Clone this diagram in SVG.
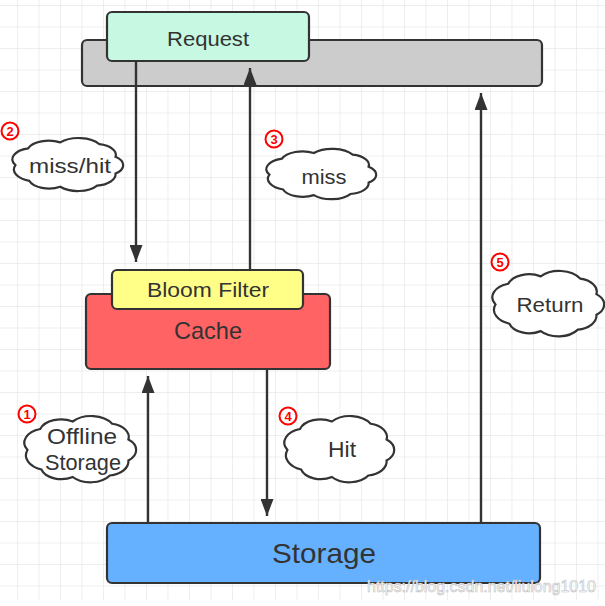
<svg xmlns="http://www.w3.org/2000/svg" xmlns:xlink="http://www.w3.org/1999/xlink" width="605" height="606" viewBox="0 0 605 606">
<style>
.box{stroke:#333;stroke-width:2.2}
.t{font-family:"Liberation Sans",Arial,sans-serif;fill:#333;text-anchor:middle}
.cl{fill:#fff;stroke:#333;stroke-width:2.2;vector-effect:non-scaling-stroke}
.conn line{stroke:#333;stroke-width:2.4}
.num circle{fill:none;stroke:#f00;stroke-width:2}
.num text{font-family:"Liberation Sans",Arial,sans-serif;font-weight:bold;font-size:13px;fill:#f00;text-anchor:middle}
</style>
<defs>
<pattern id="grid" width="21.5" height="21.5" patternUnits="userSpaceOnUse" x="17" y="5">
<path d="M0 0H21.5M0 0V21.5" fill="none" stroke="#dedede" stroke-width="1"/>
</pattern>
<marker id="ah" markerUnits="userSpaceOnUse" markerWidth="17" markerHeight="13" refX="17" refY="6.5" orient="auto">
<path d="M0,0 L17,6.5 L0,13 Z" fill="#333"/>
</marker>
<path id="cloud" class="cl" d="M3,52 A19,19 0 0 1 14,24 A19,19 0 0 1 42,14 A21,21 0 0 1 76,17 A18,18 0 0 1 90,38 A18,18 0 0 1 90,66 A19,19 0 0 1 74,86 A20,20 0 0 1 42,88 A18,18 0 0 1 15,78 A20,20 0 0 1 3,52 Z"/>
</defs>
<rect width="605" height="600" fill="#fff"/>
<rect width="605" height="600" fill="url(#grid)"/>

<g id="gateway"><rect class="box" x="82" y="40" width="460" height="46" rx="5" fill="#cccccc"/></g>
<g id="request"><rect class="box" x="107" y="12" width="202" height="49" rx="5" fill="#c6f8e2"/><text class="t" x="208" y="45.5" font-size="21" textLength="82" lengthAdjust="spacingAndGlyphs">Request</text></g>
<g id="cache"><rect class="box" x="86" y="294" width="244" height="75" rx="5" fill="#ff6363"/><text class="t" x="208" y="339" font-size="24" textLength="68" lengthAdjust="spacingAndGlyphs">Cache</text></g>
<g id="bloom"><rect class="box" x="112" y="270" width="191" height="39" rx="5" fill="#ffff88"/><text class="t" x="208" y="297" font-size="21" textLength="122" lengthAdjust="spacingAndGlyphs">Bloom Filter</text></g>
<g id="storage"><rect class="box" x="107" y="523" width="433" height="60" rx="5" fill="#66b1ff"/><text class="t" x="324" y="563" font-size="28" textLength="104" lengthAdjust="spacingAndGlyphs">Storage</text></g>

<g class="conn" id="connectors">
<line x1="136" y1="61" x2="136" y2="262" marker-end="url(#ah)"/>
<line x1="250" y1="270" x2="250" y2="68" marker-end="url(#ah)"/>
<line x1="481" y1="523" x2="481" y2="93" marker-end="url(#ah)"/>
<line x1="148" y1="523" x2="148" y2="376" marker-end="url(#ah)"/>
<line x1="267" y1="369" x2="267" y2="516" marker-end="url(#ah)"/>
</g>

<g id="cloud-misshit"><use xlink:href="#cloud" transform="translate(12,134) scale(1.15,0.6)"/><text class="t" x="70" y="173" font-size="21" textLength="82" lengthAdjust="spacingAndGlyphs">miss/hit</text></g>
<g id="cloud-miss"><use xlink:href="#cloud" transform="translate(266,145) scale(1.14,0.57)"/><text class="t" x="324" y="184" font-size="21" textLength="45" lengthAdjust="spacingAndGlyphs">miss</text></g>
<g id="cloud-return"><use xlink:href="#cloud" transform="translate(492,266) scale(1.16,0.74)"/><text class="t" x="550" y="312" font-size="21" textLength="67" lengthAdjust="spacingAndGlyphs">Return</text></g>
<g id="cloud-offline"><use xlink:href="#cloud" transform="translate(24,411) scale(1.16,0.75)"/><text class="t" x="82" y="444" font-size="22" textLength="70" lengthAdjust="spacingAndGlyphs">Offline</text><text class="t" x="83" y="470" font-size="22" textLength="76" lengthAdjust="spacingAndGlyphs">Storage</text></g>
<g id="cloud-hit"><use xlink:href="#cloud" transform="translate(284,411) scale(1.14,0.75)"/><text class="t" x="342" y="457" font-size="22" textLength="28" lengthAdjust="spacingAndGlyphs">Hit</text></g>

<g class="num" id="n1"><circle cx="27" cy="414" r="8.5"/><text x="27" y="418.5">1</text></g>
<g class="num" id="n2"><circle cx="10" cy="131" r="8.5"/><text x="10" y="135.5">2</text></g>
<g class="num" id="n3"><circle cx="274" cy="139" r="8.5"/><text x="274" y="143.5">3</text></g>
<g class="num" id="n4"><circle cx="288" cy="416" r="8.5"/><text x="288" y="420.5">4</text></g>
<g class="num" id="n5"><circle cx="500" cy="262" r="8.5"/><text x="500" y="266.5">5</text></g>

<text x="367" y="592" font-family="Liberation Sans,Arial,sans-serif" font-size="17" fill="#fff" stroke="#bdbdbd" stroke-width="0.6" textLength="229" lengthAdjust="spacingAndGlyphs">https://blog.csdn.net/liulong1010</text>
</svg>
